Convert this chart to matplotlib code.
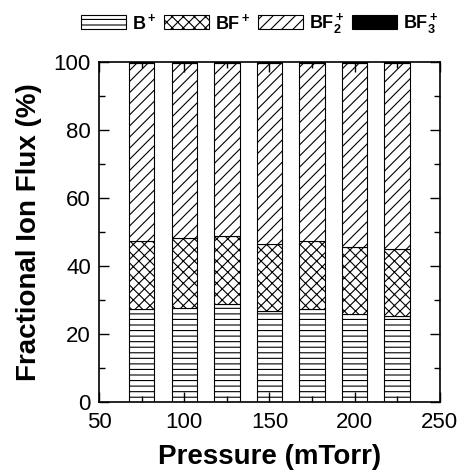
import matplotlib
matplotlib.use('Agg')
from matplotlib import pyplot as plt
from matplotlib.ticker import MultipleLocator

plt.rcParams['font.family'] = ['Liberation Sans', 'DejaVu Sans']
plt.rcParams['mathtext.fontset'] = 'custom'
plt.rcParams['mathtext.rm'] = 'Liberation Sans:bold'
plt.rcParams['mathtext.bf'] = 'Liberation Sans:bold'
plt.rcParams['mathtext.it'] = 'Liberation Sans:bold'
plt.rcParams['hatch.linewidth'] = 0.8

pressure = [75, 100, 125, 150, 175, 200, 225]
b_plus = [27.3, 27.5, 28.8, 26.8, 27.4, 25.8, 25.2]
bf_plus = [20.2, 20.8, 19.9, 19.7, 19.9, 19.7, 19.8]
bf3_plus = [0.2, 0.2, 0.2, 0.2, 0.2, 0.2, 0.2]
bf2_plus = [100 - a - b - c for a, b, c in zip(b_plus, bf_plus, bf3_plus)]

labels = [r'B$^+$', r'BF$^+$', r'BF$_2^+$', r'BF$_3^+$']

fig = plt.figure(figsize=(4.61, 4.75), dpi=100)
ax = fig.add_axes([0.215, 0.154, 0.739, 0.715])

w = 15
bottom = [0] * len(pressure)
b1 = ax.bar(pressure, b_plus, w, bottom=bottom, color='white',
            edgecolor='black', hatch='---', linewidth=0.8)
bottom = [s + v for s, v in zip(bottom, b_plus)]
b2 = ax.bar(pressure, bf_plus, w, bottom=bottom, color='white',
            edgecolor='black', hatch='xxx', linewidth=0.8)
bottom = [s + v for s, v in zip(bottom, bf_plus)]
b3 = ax.bar(pressure, bf2_plus, w, bottom=bottom, color='white',
            edgecolor='black', hatch='///', linewidth=0.8)
bottom = [s + v for s, v in zip(bottom, bf2_plus)]
b4 = ax.bar(pressure, bf3_plus, w, bottom=bottom, color='black',
            edgecolor='black', linewidth=0.8)

ax.set_xlim(50, 250)
ax.set_ylim(0, 100)
ax.xaxis.set_major_locator(MultipleLocator(50))
ax.xaxis.set_minor_locator(MultipleLocator(25))
ax.yaxis.set_major_locator(MultipleLocator(20))
ax.yaxis.set_minor_locator(MultipleLocator(10))
ax.tick_params(which='both', direction='in', top=True, right=True,
               labelsize=16, width=1)
ax.tick_params(axis='x', pad=7)
ax.tick_params(axis='y', pad=6)
ax.tick_params(which='major', length=7)
ax.tick_params(which='minor', length=4)
for s in ax.spines.values():
    s.set_linewidth(1.2)

ax.set_xlabel('Pressure (mTorr)', fontsize=20, fontweight='bold', labelpad=8)
ax.set_ylabel('Fractional Ion Flux (%)', fontsize=20, fontweight='bold',
              labelpad=8)

fig.legend([b1, b2, b3, b4], labels, loc='upper right',
           bbox_to_anchor=(0.985, 1.01), ncol=4, frameon=False,
           handlelength=2.5, handleheight=0.85,
           handletextpad=0.3, columnspacing=0.45,
           prop={'weight': 'bold', 'size': 13})

fig.savefig('out.png', dpi=100)
